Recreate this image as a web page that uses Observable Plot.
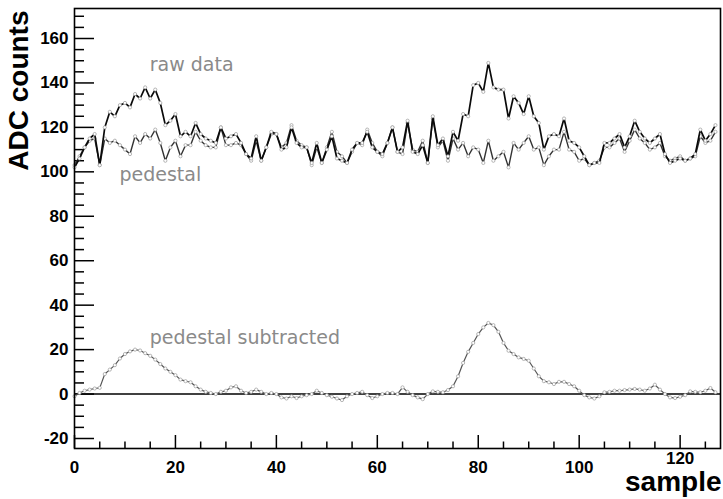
<!DOCTYPE html>
<html><head><meta charset="utf-8">
<script src="https://cdn.jsdelivr.net/npm/d3@7"></script>
<script src="https://cdn.jsdelivr.net/npm/@observablehq/plot@0.6"></script>
<style>body{margin:0;background:#fff} svg{display:block}</style>
</head><body><div id="chart"></div>
<script>
// ADC counts per sample (index = sample number)
const rawData = [
 102,106,111,115,117,103,120,127,125,130,
 131,129,135,133,138,133,137,131,121,123,
 126,116,118,116,122,117,115,114,113,120,
 115,116,117,113,108,106,116,105,111,118,
 117,110,111,120,113,111,111,104,113,104,
 110,116,106,105,104,110,113,113,118,111,
 109,108,113,120,109,111,123,109,108,112,
 104,125,112,115,107,118,114,126,125,139,
 140,136,149,138,137,137,124,134,131,126,
 134,125,122,110,116,117,116,124,114,113,
 111,107,103,104,104,113,113,115,117,111,
 116,123,118,115,113,115,117,108,104,105,
 106,105,106,108,119,114,117,121
];
const pedestal = [
 103,107,111,114,115,103,115,113,114,112,
 110,108,116,113,117,115,119,113,105,111,
 114,107,112,112,118,114,112,111,111,120,
 112,112,113,112,108,105,114,105,111,117,
 117,111,113,121,114,112,111,103,111,104,
 111,118,109,107,104,109,113,112,119,113,
 109,107,113,120,109,108,122,110,109,114,
 104,124,111,114,105,115,110,113,107,111,
 110,104,114,105,107,109,102,113,110,113,
 116,110,111,103,107,110,110,118,110,109,
 105,106,103,104,105,111,111,113,115,109,
 114,119,115,113,110,111,113,107,105,106,
 107,105,106,107,116,113,114,118
];
const subtracted = [
 -1,0.5,1.5,2,2.5,2.8,9,11,13,16,
 18,19.2,20,19.6,18.4,17.2,15.5,13.5,11.5,10,
 8.5,6.5,5.8,5.3,3.5,2,1,0.5,0,1,
 1.5,3,3.5,1.5,0.5,1,2,1,0,0.5,
 0,-1.5,-2,-1,-1.8,-1,-0.5,0,1.5,0.5,
 -0.5,-1.2,-2,-2.7,-1,0,0.5,1,-0.5,-1.8,
 -1,0,0.5,0.5,0,3,1,-0.5,-1.5,-2.3,
 0,1.2,1,0.8,1.8,3.5,8,14,19,23,
 27,30,32,31,28,23,19.5,18,16.5,15.8,
 15,11.5,8,5.8,5.3,4.5,5.5,5.5,4.5,3.5,
 1.5,-0.5,-1.5,-2,-1,0.8,1,1.5,1.5,1.8,
 2,2.3,2,1.5,2.5,4.2,2,0,-1.5,-1.8,
 -1.2,-0.5,1.2,1,0.8,1.5,2.7,0.8
];
const xMajorTicks = [0,20,40,60,80,100,120];
const xMinorTicks = [5,10,15,25,30,35,45,50,55,65,70,75,85,90,95,105,110,115,125];
const yMajorTicks = [-20,0,20,40,60,80,100,120,140,160];
const yMinorTicks = [-15,-10,-5,5,10,15,25,30,35,45,50,55,65,70,75,85,90,95,105,110,115,125,130,135,145,150,155,165,170];
const seriesLabels = [
  {text: "raw data", x: 14.9, y: 148},
  {text: "pedestal", x: 8.9, y: 98.5},
  {text: "pedestal subtracted", x: 14.9, y: 25.3}
];
const xTitle = "sample";
const yTitle = "ADC counts";

const xDomain = [0, 128];
const yDomain = [-24.5, 173.5];
const W = 723, H = 499, mL = 74, mR = 3, mT = 8, mB = 51;
const pxPerX = (W - mL - mR) / (xDomain[1] - xDomain[0]);
const pxPerY = (H - mT - mB) / (yDomain[1] - yDomain[0]);

const idx = (d, i) => i;
const val = d => d;
const seriesMarks = (arr, stroke, sw) => [
  Plot.line(arr, {x: idx, y: val, stroke, strokeWidth: sw}),
  Plot.dot(arr, {x: idx, y: val, r: 1.6, stroke: "#9a9a9a", fill: "#fff", strokeWidth: 0.7})
];
const lastTick = xMajorTicks[xMajorTicks.length - 1];

const chart = Plot.plot({
  width: W, height: H,
  marginLeft: mL, marginRight: mR, marginTop: mT, marginBottom: mB,
  x: {domain: xDomain},
  y: {domain: yDomain},
  style: {fontFamily: "'Liberation Sans', Arial, Helvetica, sans-serif", background: "#fff", color: "#000"},
  marks: [
    Plot.ruleY([0], {stroke: "#000", strokeWidth: 1.5}),
    Plot.ruleX(xMajorTicks, {x: val, y1: yDomain[0], y2: yDomain[0] + 13 / pxPerY, stroke: "#000", strokeWidth: 1.5}),
    Plot.ruleX(xMinorTicks, {x: val, y1: yDomain[0], y2: yDomain[0] + 6.5 / pxPerY, stroke: "#000", strokeWidth: 1.5}),
    Plot.ruleY(yMajorTicks, {y: val, x1: xDomain[0], x2: xDomain[0] + 20 / pxPerX, stroke: "#000", strokeWidth: 1.5}),
    Plot.ruleY(yMinorTicks, {y: val, x1: xDomain[0], x2: xDomain[0] + 10 / pxPerX, stroke: "#000", strokeWidth: 1.5}),
    ...seriesMarks(pedestal, "#333", 1.4),
    ...seriesMarks(rawData, "#0a0a0a", 1.7),
    ...seriesMarks(subtracted, "#555", 1.2),
    Plot.frame({stroke: "#000", strokeWidth: 1.6}),
    Plot.axisX(xMajorTicks.filter(t => t !== lastTick), {tickSize: 0, tickPadding: 12, fontSize: 17, fontWeight: "bold", label: null, tickFormat: d => String(d)}),
    Plot.axisX([lastTick], {tickSize: 0, tickPadding: 3, fontSize: 17, fontWeight: "bold", label: null, tickFormat: d => String(d)}),
    Plot.axisY(yMajorTicks, {tickSize: 0, tickPadding: 6, fontSize: 17, fontWeight: "bold", label: null, tickFormat: d => String(d)}),
    Plot.text(seriesLabels, {x: "x", y: "y", text: "text", textAnchor: "start", fontSize: 19, fontFamily: "'DejaVu Sans', sans-serif", fill: "#8a8a8a"}),
    Plot.text([xTitle], {frameAnchor: "bottom-right", text: d => d, textAnchor: "end", lineAnchor: "bottom", dx: 1, dy: 42, fontSize: 28, fontWeight: "bold"}),
    Plot.text([yTitle], {frameAnchor: "top-left", text: d => d, textAnchor: "end", lineAnchor: "top", rotate: -90, dx: -66, dy: 2, fontSize: 28, fontWeight: "bold"})
  ]
});
document.getElementById("chart").appendChild(chart);
</script>
</body></html>
